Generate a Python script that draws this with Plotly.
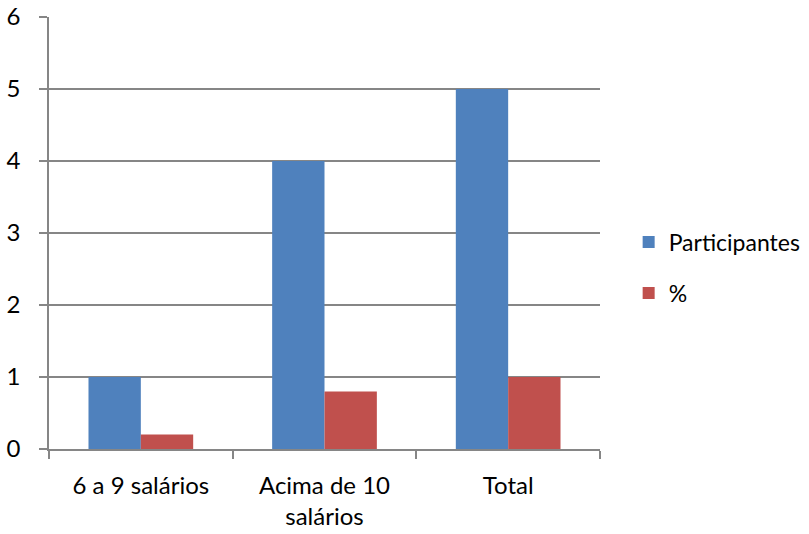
import plotly.graph_objects as go

categories = ["6 a 9 salários", "Acima de 10<br>salários", "Total"]
participantes = [1, 4, 5]
percentual = [0.2, 0.8, 1.0]
y_ticks = [0, 1, 2, 3, 4, 5, 6]

AXIS_GRAY = "#868686"
FONT = "Lato, 'Open Sans', sans-serif"

fig = go.Figure()
fig.add_trace(go.Bar(
    x=categories, y=participantes, name="Participantes",
    marker=dict(color="#4F81BD", line=dict(width=0)), legendgroup="a",
))
fig.add_trace(go.Bar(
    x=categories, y=percentual, name="%",
    marker=dict(color="#C0504D", line=dict(width=0)), legendgroup="b",
))

fig.update_layout(
    width=809, height=534,
    margin=dict(l=49, r=209, t=17, b=85, autoexpand=False),
    paper_bgcolor="white", plot_bgcolor="white",
    barmode="group", bargap=0.43, bargroupgap=0,
    font=dict(family=FONT, size=24, color="black"),
    showlegend=True,
    legend=dict(
        x=1.052, y=0.42, xanchor="left", yanchor="middle",
        font=dict(size=23), tracegroupgap=18,
        itemwidth=30, bgcolor="rgba(0,0,0,0)",
    ),
)

fig.update_xaxes(
    showline=True, linecolor=AXIS_GRAY, linewidth=1.5,
    ticks="outside", ticklen=8, tickcolor=AXIS_GRAY, tickwidth=1.5,
    tickson="boundaries", showgrid=False, ticklabelstandoff=14,
    automargin=False,
)
fig.update_yaxes(
    range=[0, 6], tickvals=y_ticks,
    showline=True, linecolor=AXIS_GRAY, linewidth=1.5,
    ticks="outside", ticklen=8, tickcolor=AXIS_GRAY, tickwidth=1.5,
    showgrid=True, gridcolor=AXIS_GRAY, gridwidth=1.5,
    zeroline=False, ticklabelstandoff=14, automargin=False,
)

fig.write_html("out.html")
